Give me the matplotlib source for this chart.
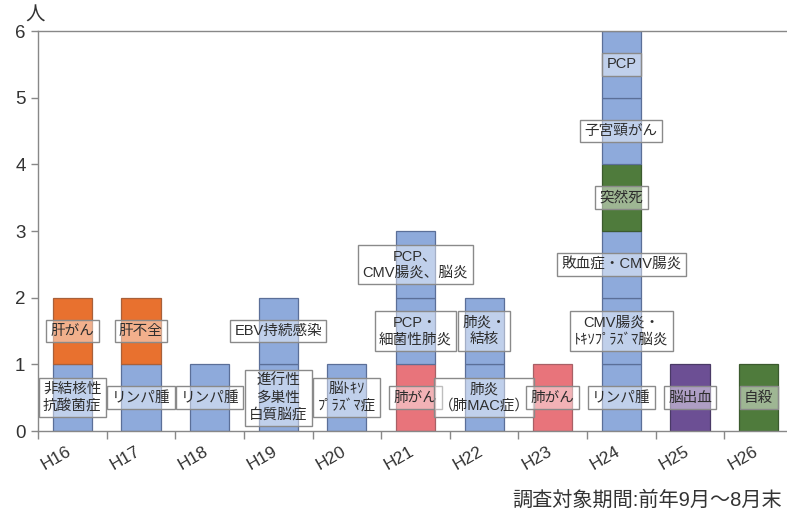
import matplotlib
matplotlib.use("Agg")
import matplotlib.pyplot as plt
from matplotlib.transforms import ScaledTranslation

plt.rcParams['font.family'] = ['Liberation Sans', 'Noto Sans CJK JP']

# Fiscal years (Heisei) and the causes of death recorded in each, bottom to top
years = ['H16', 'H17', 'H18', 'H19', 'H20', 'H21', 'H22', 'H23', 'H24', 'H25', 'H26']

causes = [
    ['非結核性\n抗酸菌症', '肝がん'],
    ['リンパ腫', '肝不全'],
    ['リンパ腫'],
    ['進行性\n多巣性\n白質脳症', 'EBV持続感染'],
    ['脳ﾄｷｿ\nﾌﾟﾗｽﾞﾏ症'],
    ['肺がん', 'PCP・\n細菌性肺炎', 'PCP、\nCMV腸炎、脳炎'],
    ['肺炎\n（肺MAC症）', '肺炎・\n結核'],
    ['肺がん'],
    ['リンパ腫', 'CMV腸炎・\nﾄｷｿﾌﾟﾗｽﾞﾏ脳炎', '敗血症・CMV腸炎', '突然死', '子宮頸がん', 'PCP'],
    ['脳出血'],
    ['自殺'],
]

# Category of each death: infection / liver / lung cancer / stroke / sudden or suicide
kinds = [
    ['inf', 'liver'],
    ['inf', 'liver'],
    ['inf'],
    ['inf', 'inf'],
    ['inf'],
    ['lung', 'inf', 'inf'],
    ['inf', 'inf'],
    ['lung'],
    ['inf', 'inf', 'inf', 'other', 'inf', 'inf'],
    ['stroke'],
    ['other'],
]

# Each block stands for one person
persons = [[1] * len(c) for c in causes]

colors = {
    'inf': '#8eaadb',
    'liver': '#e8712f',
    'lung': '#e8747b',
    'stroke': '#6c4f94',
    'other': '#4f7b3c',
}
edge_colors = {
    'inf': '#5b6f98',
    'liver': '#a8603a',
    'lung': '#a86066',
    'stroke': '#4a3a66',
    'other': '#3b5a2e',
}

fig = plt.figure(figsize=(7.87, 5.13), dpi=100)
ax = fig.add_axes([38 / 787, 82 / 513, 755 / 787, 400 / 513])

bar_w = 0.57
for i, (labels, ks, vals) in enumerate(zip(causes, kinds, persons)):
    bottom = 0
    for lab, k, v in zip(labels, ks, vals):
        ax.bar(i, v, bottom=bottom, width=bar_w, color=colors[k],
               edgecolor=edge_colors[k], linewidth=0.9, zorder=2)
        ax.text(i, bottom + v / 2, lab, ha='center', va='center',
                multialignment='center', fontsize=10.5, color='#2e2e2e',
                linespacing=1.25, zorder=4,
                bbox=dict(boxstyle='square,pad=0.3',
                          facecolor=(1, 1, 1, 0.45),
                          edgecolor='#8a8a8a', linewidth=1.0))
        bottom += v

ax.set_xlim(-0.5, len(years) - 0.5)
ax.set_ylim(0, 6)

# Year labels at bar centres, tick marks on the category boundaries
ax.set_xticks(range(len(years)))
ax.set_xticklabels(years, rotation=30, fontsize=12.5, color='#333333')
ax.tick_params(axis='x', which='major', length=0, pad=9)
ax.set_xticks([b - 0.5 for b in range(len(years) + 1)], minor=True)
ax.tick_params(axis='x', which='minor', length=6, width=1, color='#888888',
               direction='out')
shift = ScaledTranslation(-0.16, 0, fig.dpi_scale_trans)
for t in ax.get_xticklabels():
    t.set_transform(t.get_transform() + shift)

ax.set_yticks(range(0, 7))
ax.tick_params(axis='y', length=5, width=1, color='#888888', labelsize=13.5,
               labelcolor='#333333', pad=4)

for side in ('left', 'bottom', 'top'):
    ax.spines[side].set_color('#888888')
    ax.spines[side].set_linewidth(1.0)
ax.spines['right'].set_visible(False)

fig.text(35 / 787, 1 - 16 / 513, '人', ha='center', va='center',
         fontsize=14, color='#333333')
fig.text(782 / 787, 1 - 500 / 513, '調査対象期間:前年9月～8月末',
         ha='right', va='center', fontsize=14.5, color='#333333')

fig.savefig('out.png', dpi=100)
